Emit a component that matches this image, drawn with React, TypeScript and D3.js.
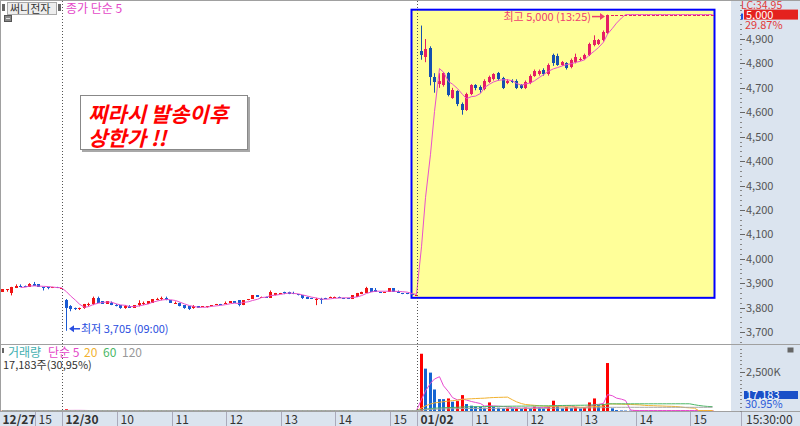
import * as d3 from 'd3';

// 5-minute candles [open, high, low, close]
const day1227 = [
  [3865, 3875, 3865, 3875], [3870, 3875, 3865, 3875], [3860, 3885, 3850, 3885], [3880, 3895, 3880, 3890],
  [3890, 3895, 3885, 3885], [3890, 3890, 3885, 3885], [3885, 3900, 3885, 3895], [3895, 3905, 3890, 3890],
  [3895, 3895, 3885, 3885], [3885, 3885, 3870, 3880], [3885, 3885, 3875, 3880], [3880, 3885, 3880, 3885],
  [3885, 3885, 3880, 3880], [3880, 3880, 3880, 3880],
];

const day1230 = [
  [3830, 3835, 3705, 3800], [3805, 3810, 3785, 3795], [3800, 3800, 3790, 3795], [3795, 3800, 3790, 3800],
  [3800, 3815, 3795, 3815], [3810, 3820, 3805, 3815], [3815, 3845, 3810, 3840], [3840, 3845, 3820, 3820],
  [3825, 3825, 3815, 3815], [3815, 3825, 3815, 3825], [3820, 3825, 3810, 3810], [3810, 3815, 3805, 3805],
  [3810, 3810, 3795, 3800], [3800, 3810, 3795, 3805], [3805, 3810, 3800, 3800], [3800, 3810, 3800, 3810],
  [3810, 3830, 3805, 3820], [3815, 3825, 3810, 3820], [3815, 3825, 3815, 3825], [3820, 3835, 3820, 3835],
  [3830, 3840, 3830, 3835], [3835, 3845, 3830, 3840], [3840, 3845, 3830, 3830], [3830, 3830, 3820, 3820],
  [3815, 3825, 3815, 3820], [3820, 3820, 3805, 3805], [3810, 3810, 3795, 3800], [3805, 3805, 3790, 3795],
  [3800, 3810, 3795, 3805], [3805, 3805, 3800, 3800], [3805, 3805, 3805, 3805], [3805, 3805, 3800, 3805],
  [3805, 3810, 3805, 3810], [3810, 3815, 3810, 3815], [3815, 3815, 3810, 3810], [3815, 3825, 3815, 3820],
  [3820, 3825, 3820, 3825], [3825, 3825, 3820, 3820], [3830, 3830, 3805, 3810], [3810, 3830, 3810, 3830],
  [3830, 3835, 3830, 3835], [3835, 3850, 3835, 3850], [3850, 3850, 3845, 3845], [3840, 3845, 3840, 3845],
  [3845, 3845, 3840, 3840], [3840, 3870, 3840, 3865], [3850, 3860, 3850, 3860], [3855, 3860, 3855, 3860],
  [3865, 3865, 3855, 3860], [3865, 3865, 3855, 3855], [3860, 3865, 3855, 3855], [3855, 3855, 3850, 3850],
  [3850, 3850, 3835, 3840], [3845, 3845, 3835, 3835], [3840, 3840, 3835, 3835], [3830, 3840, 3810, 3835],
  [3835, 3840, 3815, 3830], [3840, 3840, 3835, 3835], [3840, 3845, 3840, 3845], [3840, 3845, 3840, 3845],
  [3845, 3845, 3840, 3840], [3840, 3840, 3835, 3835], [3840, 3840, 3835, 3835], [3835, 3850, 3835, 3850],
  [3845, 3860, 3845, 3860], [3855, 3865, 3855, 3865], [3860, 3885, 3860, 3880], [3880, 3880, 3865, 3865],
  [3870, 3880, 3865, 3865], [3865, 3865, 3860, 3860], [3860, 3865, 3860, 3865], [3865, 3880, 3865, 3880],
  [3880, 3880, 3865, 3865], [3865, 3870, 3860, 3860], [3860, 3860, 3855, 3855], [3860, 3860, 3855, 3855],
  [3855, 3855, 3850, 3850], [3850, 3850, 3850, 3850],
];

const day0102 = [
  [4850, 4955, 4815, 4835], [4825, 4900, 4805, 4860], [4865, 4870, 4710, 4745], [4745, 4760, 4680, 4725],
  [4715, 4760, 4700, 4730], [4710, 4765, 4705, 4760], [4760, 4765, 4665, 4670], [4660, 4700, 4655, 4690],
  [4685, 4690, 4625, 4635], [4635, 4640, 4590, 4610], [4610, 4680, 4605, 4675], [4675, 4715, 4670, 4710],
  [4710, 4715, 4690, 4700], [4705, 4710, 4680, 4690], [4695, 4735, 4690, 4730], [4725, 4750, 4720, 4745],
  [4735, 4760, 4730, 4755], [4760, 4765, 4730, 4735], [4740, 4745, 4695, 4700], [4720, 4735, 4715, 4730],
  [4730, 4735, 4720, 4725], [4730, 4735, 4695, 4700], [4710, 4715, 4695, 4700], [4700, 4730, 4695, 4725],
  [4720, 4755, 4715, 4750], [4750, 4775, 4745, 4770], [4755, 4775, 4750, 4770], [4775, 4780, 4750, 4755],
  [4755, 4800, 4750, 4795], [4835, 4840, 4790, 4800], [4830, 4840, 4790, 4795], [4795, 4810, 4790, 4805],
  [4800, 4805, 4775, 4780], [4785, 4820, 4780, 4815], [4805, 4840, 4800, 4825], [4815, 4825, 4810, 4820],
  [4820, 4840, 4815, 4835], [4835, 4885, 4830, 4880], [4875, 4915, 4870, 4895], [4880, 4900, 4875, 4895],
  [4895, 4935, 4890, 4930], [4925, 5000, 4920, 5000],
  [5000, 5000, 5000, 5000], [5000, 5000, 5000, 5000], [5000, 5000, 5000, 5000], [5000, 5000, 5000, 5000],
  [5000, 5000, 5000, 5000], [5000, 5000, 5000, 5000], [5000, 5000, 5000, 5000], [5000, 5000, 5000, 5000],
  [5000, 5000, 5000, 5000], [5000, 5000, 5000, 5000], [5000, 5000, 5000, 5000], [5000, 5000, 5000, 5000],
  [5000, 5000, 5000, 5000], [5000, 5000, 5000, 5000], [5000, 5000, 5000, 5000], [5000, 5000, 5000, 5000],
  [5000, 5000, 5000, 5000], [5000, 5000, 5000, 5000], [5000, 5000, 5000, 5000], [5000, 5000, 5000, 5000],
  [5000, 5000, 5000, 5000], [5000, 5000, 5000, 5000], [5000, 5000, 5000, 5000],
];

// volume, thousands of shares
const vol1227 = [15, 10, 25, 20, 12, 8, 18, 10, 14, 9, 10, 8, 12, 40];
const vol1230 = [
  110, 25, 15, 12, 20, 10, 35, 18, 10, 8, 12, 9,
  15, 8, 6, 10, 14, 8, 9, 12, 10, 8, 12, 9,
  7, 10, 15, 8, 6, 9, 5, 6, 8, 10, 7, 9,
  12, 6, 8, 10, 8, 7, 9, 12, 10, 45, 9, 8,
  10, 7, 6, 8, 9, 10, 12, 50, 22, 8, 10, 9,
  8, 7, 6, 10, 18, 12, 9, 10, 14, 8, 10, 12,
  9, 8, 11, 9, 10, 30,
];
const vol0102 = [
  3670, 2715, 2460, 1380, 765, 760, 805, 595, 635, 1020, 445, 340,
  300, 280, 210, 550, 280, 210, 170, 210, 180, 200, 150, 220,
  190, 280, 230, 170, 280, 660, 320, 170, 260, 190, 260, 160,
  250, 550, 805, 380, 445, 3075, 170, 60, 35, 28, 22, 30,
  18, 25, 15, 20, 12, 16, 10, 14, 22, 12, 15, 11,
  14, 9, 12, 10, 17.183,
];

const tickIdx = [0, 8, 14, 26, 38, 50, 62, 74, 86, 92, 104, 116, 128, 140, 152];
const tickText = ['12/27', '15', '12/30', '10', '11', '12', '13', '14', '15', '01/02', '11', '12', '13', '14', '15'];
const dayStarts = [14, 92];
const priceTicks = [3700, 3800, 3900, 4000, 4100, 4200, 4300, 4400, 4500, 4600, 4700, 4800, 4900];

const volMa = [
  { n: 5, color: '#e84ad0' },
  { n: 20, color: '#f2b230' },
  { n: 60, color: '#4cb866' },
  { n: 120, color: '#a8a8a8' },
];

const FONT = '"Noto Sans CJK KR", "Noto Sans", sans-serif';
const AXIS_BG = '#dbe4ef';

export default function App() {
  const candles = [...day1227, ...day1230, ...day0102];
  const volumes = [...vol1227, ...vol1230, ...vol0102];
  const N = candles.length;
  const idx = d3.range(N);

  const x = d3.scaleBand<number>().domain(idx).range([-0.275, -0.275 + N * 4.55]);
  const cx = (i: number) => Math.round((x(i) as number) + x.bandwidth() / 2);
  const yP = d3.scaleLinear().domain([3700, 4900]).range([332, 39]);
  const yV = d3.scaleLinear().domain([0, 2500]).range([411, 372]);

  const closes = candles.map(d => d[3]);
  const ma5 = idx.map(i => (i >= 4 ? d3.mean(closes.slice(i - 4, i + 1)) as number : NaN));
  const maLine = d3.line<number>().defined(i => i >= 4).x(i => cx(i) + 0.5).y(i => yP(ma5[i]));

  const firstNew = dayStarts[1];
  const box = { i0: 90, i1: 156, top: 5020, bottom: 3840 };
  const hiIdx = d3.maxIndex(candles, d => d[1] - (d[0] === d[3] && d[1] === d[2] ? 1000 : 0));
  const loIdx = d3.minIndex(candles, d => d[2]);

  const upCol = (i: number) => (i >= firstNew ? '#e61e64' : '#f01414');
  const dnCol = (i: number) => (i >= firstNew ? '#1450b0' : '#1a5ad2');

  const minorTicks = d3.range(3640, 5080, 20).filter(v => yP(v) > 1 && yP(v) < 343);
  const volMinor = d3.range(0, 4600, 250).filter(v => yV(v) > 346);

  return (
    <div style={{ position: 'absolute', left: 0, top: 0 }}>
      <svg width={800} height={426} style={{ display: 'block', fontFamily: FONT }}>
        <rect width={800} height={426} fill="#fff" />
        {/* right axis panel and bottom time axis */}
        <rect x={731} y={0} width={69} height={426} fill={AXIS_BG} />
        <rect x={0} y={411.5} width={800} height={15} fill={AXIS_BG} />
        <line x1={0} x2={800} y1={0.5} y2={0.5} stroke="#a0a0a0" />
        <line x1={0.5} x2={0.5} y1={0} y2={411} stroke="#a0a0a0" />
        <line x1={0} x2={800} y1={344.5} y2={344.5} stroke="#a0a0a0" />
        <line x1={0} x2={800} y1={411.5} y2={411.5} stroke="#a0a0a0" />

        {/* highlight box */}
        <rect
          x={cx(box.i0) - 0.5}
          y={yP(box.top)}
          width={cx(box.i1) + 3 - cx(box.i0)}
          height={yP(box.bottom) - yP(box.top)}
          fill="#ffff99"
          stroke="#0000ff"
          strokeWidth={2}
        />

        {/* candles */}
        {candles.map((d, i) => {
          const [o, h, l, c] = d;
          const col = c >= o ? upCol(i) : dnCol(i);
          const yt = Math.round(yP(Math.max(o, c)));
          const yb = Math.round(yP(Math.min(o, c)));
          return (
            <g key={i}>
              {h !== l && <line x1={cx(i) + 0.5} x2={cx(i) + 0.5} y1={yP(h)} y2={yP(l)} stroke={col} />}
              <rect x={cx(i) - 1} y={yt} width={3} height={Math.max(1, yb - yt)} fill={col} />
            </g>
          );
        })}
        <path d={maLine(idx) as string} fill="none" stroke="#e850cc" strokeWidth={1} />

        {/* volume bars */}
        {volumes.map((v, i) => {
          const up = i === 0 || v > volumes[i - 1];
          const y = yV(v);
          return (
            <rect key={i} x={cx(i) - 1} y={y} width={3} height={Math.max(0, 411 - y)} fill={up ? '#ff0000' : '#1464d2'} />
          );
        })}
        {volMa.map(m => {
          const vals = idx.map(i => d3.mean(volumes.slice(Math.max(0, i - m.n + 1), i + 1)) as number);
          const line = d3.line<number>().x(i => cx(i) + 0.5).y(i => Math.min(410.5, yV(vals[i])));
          return <path key={m.n} d={line(idx) as string} fill="none" stroke={m.color} strokeWidth={1} />;
        })}

        {/* day separators */}
        {dayStarts.map(i => (
          <line key={i} x1={Math.round(x(i) as number) - 0.5} x2={Math.round(x(i) as number) - 0.5} y1={1} y2={411}
            stroke="#555" strokeDasharray="1,2" />
        ))}

        {/* high / low annotations */}
        <g fill="#ee4070">
          <text x={cx(hiIdx) - 16} y={yP(candles[hiIdx][1]) + 6} fontSize={11} textAnchor="end">최고 5,000 (13:25)</text>
          <line x1={cx(hiIdx) - 15} x2={cx(hiIdx) - 5} y1={yP(candles[hiIdx][1]) + 2} y2={yP(candles[hiIdx][1]) + 2} stroke="#ee4070" strokeWidth={1.5} />
          <path d={`M${cx(hiIdx) - 2},${yP(candles[hiIdx][1]) + 2}l-5,-3.5v7z`} />
        </g>
        <g fill="#2a4ee0">
          <path d={`M${cx(loIdx) + 3},${yP(candles[loIdx][2]) - 2}l5,-3.5v7z`} />
          <line x1={cx(loIdx) + 7} x2={cx(loIdx) + 14} y1={yP(candles[loIdx][2]) - 2} y2={yP(candles[loIdx][2]) - 2} stroke="#2a4ee0" strokeWidth={1.5} />
          <text x={cx(loIdx) + 15} y={yP(candles[loIdx][2]) + 2} fontSize={11}>최저 3,705 (09:00)</text>
        </g>

        {/* callout */}
        <rect x={82} y={97} width={168} height={55} fill="#a8a8a8" />
        <rect x={80.5} y={95.5} width={167} height={54} fill="#fff" stroke="#888" />
        <g fill="#ff0000" fontSize={21} fontWeight="bold" fontStyle="italic">
          <text x={88} y={122}>찌라시 발송이후</text>
          <text x={88} y={146}>상한가 !!</text>
        </g>

        {/* top-left legend */}
        <rect x={2} y={4} width={3} height={7} fill="#666" />
        <rect x={7.5} y={2.5} width={49} height={12} fill="#eee" stroke="#aaa" />
        <text x={10} y={12.5} fontSize={11} fill="#333">써니전자</text>
        <rect x={58} y={4} width={3} height={7} fill="#666" />
        <text x={66} y={12.5} fontSize={12} fill="#e448c8">종가 단순 5</text>
        <rect x={4.5} y={15.5} width={7} height={6} fill="#888" stroke="#555" />
        <line x1={6} x2={10} y1={18.5} y2={18.5} stroke="#ddd" />

        {/* volume legend */}
        <rect x={2} y={348} width={2} height={5} fill="#666" />
        <g fontSize={12}>
          <text x={8} y={357} fill="#3fb0b0">거래량</text>
          <text x={48} y={357} fill="#e448c8">단순 5</text>
          <text x={84} y={357} fill="#f2b230">20</text>
          <text x={103} y={357} fill="#4cb866">60</text>
          <text x={122} y={357} fill="#999">120</text>
          <text x={3} y={369} fill="#333" fontSize={11}>17,183주(30,95%)</text>
        </g>
        <rect x={787.5} y={347.5} width={6} height={5} fill="#666" />

        {/* price axis */}
        {minorTicks.map(v => (
          <line key={v} x1={740} x2={742} y1={Math.round(yP(v)) + 0.5} y2={Math.round(yP(v)) + 0.5} stroke="#888" />
        ))}
        {priceTicks.map(v => (
          <g key={v}>
            <line x1={740} x2={745} y1={Math.round(yP(v)) + 0.5} y2={Math.round(yP(v)) + 0.5} stroke="#666" />
            <text x={746} y={yP(v) + 4} fontSize={11} fill="#555">{d3.format(',')(v)}</text>
          </g>
        ))}
        <text x={741} y={9} fontSize={10.5} fill="#e23a3a">LC:34.95</text>
        <rect x={744} y={yP(5000) - 5} width={54} height={10} fill="#e4221e" />
        <text x={746} y={yP(5000) + 4} fontSize={11} fill="#fff">5,000</text>
        <rect x={741} y={yP(5000) - 1} width={2} height={6} fill="#2255dd" />
        <text x={745} y={yP(5000) + 14} fontSize={11} fill="#e23a3a">29.87%</text>

        {/* volume axis */}
        {volMinor.map(v => (
          <line key={v} x1={740} x2={742} y1={Math.round(yV(v)) + 0.5} y2={Math.round(yV(v)) + 0.5} stroke="#888" />
        ))}
        <line x1={740} x2={745} y1={Math.round(yV(2500)) + 0.5} y2={Math.round(yV(2500)) + 0.5} stroke="#666" />
        <text x={746} y={yV(2500) + 4} fontSize={11} fill="#555">2,500K</text>
        <rect x={744} y={391} width={54} height={8} fill="#1a50c8" />
        <text x={746} y={398.5} fontSize={11} fill="#fff">17,183</text>
        <text x={745} y={408} fontSize={11} fill="#2a5ad8">30.95%</text>

        {/* time axis */}
        {tickIdx.map((t, k) => {
          const sx = Math.round(x(t) as number) - 0.5;
          return (
            <g key={k}>
              <line x1={sx} x2={sx} y1={412} y2={426} stroke="#aab" />
              <text x={sx + 3} y={423.5} fontSize={12} fill="#333" fontWeight={tickText[k].includes('/') ? 'bold' : 'normal'}>
                {tickText[k]}
              </text>
            </g>
          );
        })}
        <line x1={741.5} x2={741.5} y1={412} y2={426} stroke="#aab" />
        <text x={746} y={423.5} fontSize={12} fill="#333">15:30:00</text>
      </svg>
    </div>
  );
}
